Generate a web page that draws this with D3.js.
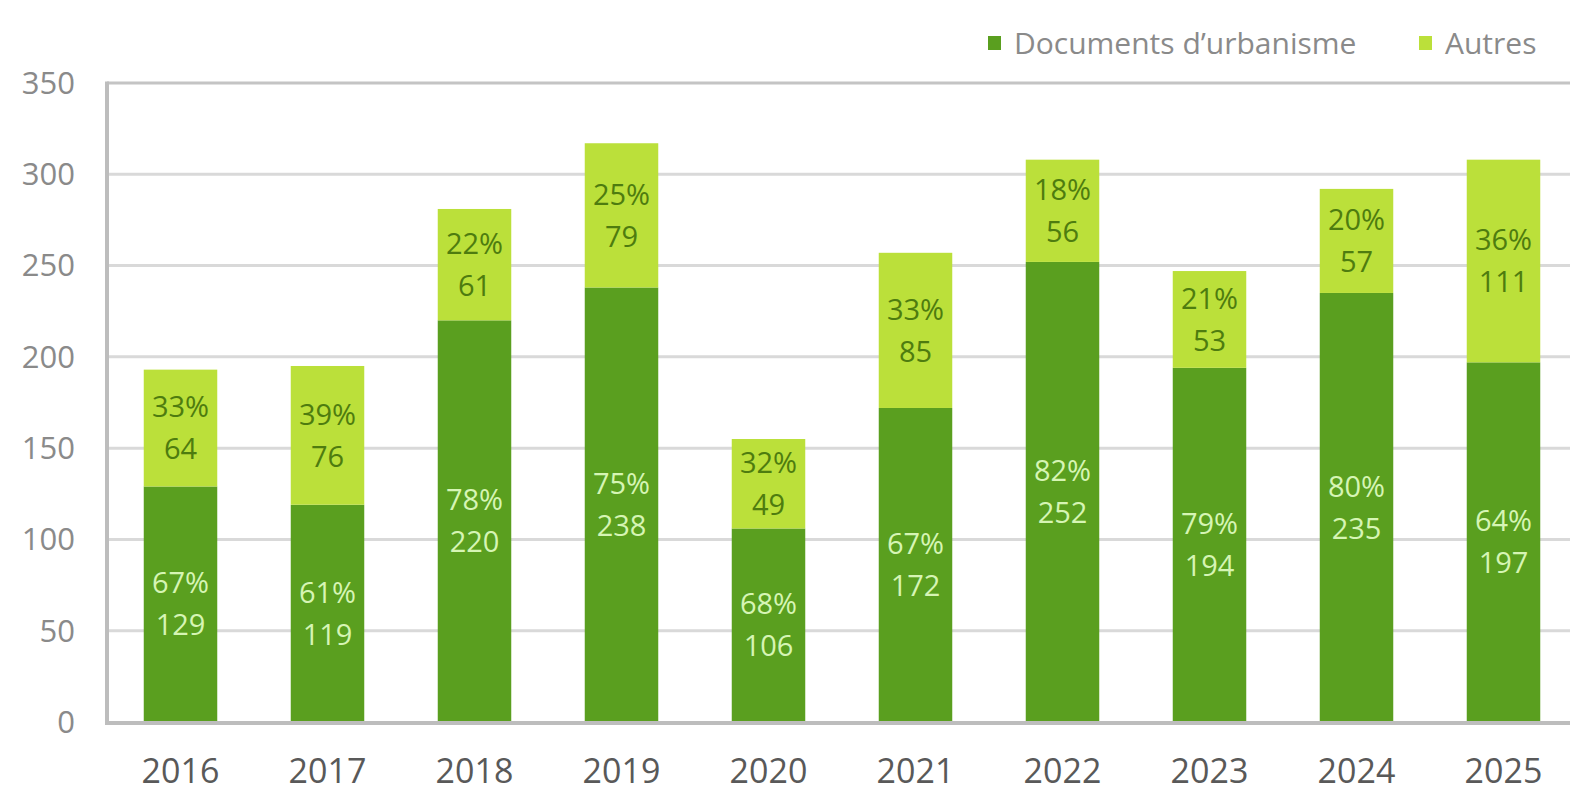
<!DOCTYPE html>
<html>
<head>
<meta charset="utf-8">
<script src="https://cdn.jsdelivr.net/npm/d3@7"></script>
<style>
  body { margin: 0; background: #fff; }
  svg { display: block; font-family: "Open Sans", sans-serif; }
</style>
</head>
<body>
<svg></svg>
<script>
// data
var years = ["2016", "2017", "2018", "2019", "2020", "2021", "2022", "2023", "2024", "2025"];
var docs = [129, 119, 220, 238, 106, 172, 252, 194, 235, 197];
var autres = [64, 76, 61, 79, 49, 85, 56, 53, 57, 111];
var docsPct = ["67%", "61%", "78%", "75%", "68%", "67%", "82%", "79%", "80%", "64%"];
var autresPct = ["33%", "39%", "22%", "25%", "32%", "33%", "18%", "21%", "20%", "36%"];
var yTicks = [0, 50, 100, 150, 200, 250, 300, 350];
var seriesNames = ["Documents d\u2019urbanisme", "Autres"];

var config = { w: 1570, h: 792, left: 107, right: 1577, top: 83, bottom: 722 };
var colors = { docs: "#5a9f1f", autres: "#bbe03a", docsText: "#d6f5b4", autresText: "#4e7c0f" };

var svg = d3.select("svg").attr("width", config.w).attr("height", config.h);

var x = d3.scaleBand()
  .domain(years)
  .range([config.left, config.right])
  .paddingInner(0.5)
  .paddingOuter(0.25);

var y = d3.scaleLinear()
  .domain([0, 350])
  .range([config.bottom, config.top]);

// gridlines
svg.append("g")
  .selectAll("line")
  .data(yTicks.filter(function(d) { return d > 0 && d < 350; }))
  .enter().append("line")
    .attr("x1", config.left).attr("x2", config.w)
    .attr("y1", y).attr("y2", y)
    .attr("stroke", "#d9d9d9")
    .attr("stroke-width", 3);

// frame: top, left lines
svg.append("line")
  .attr("x1", config.left).attr("x2", config.w)
  .attr("y1", y(350)).attr("y2", y(350))
  .attr("stroke", "#c4c4c4").attr("stroke-width", 3);
svg.append("line")
  .attr("x1", config.left).attr("x2", config.left)
  .attr("y1", y(350) - 1.5).attr("y2", y(0) + 2)
  .attr("stroke", "#bdbdbd").attr("stroke-width", 4);

// y tick labels
svg.append("g")
  .selectAll("text")
  .data(yTicks)
  .enter().append("text")
    .attr("x", 75)
    .attr("y", y)
    .attr("dy", "0.35em")
    .attr("text-anchor", "end")
    .attr("fill", "#8a8a8a")
    .style("font-size", "31px")
    .text(function(d) { return d; });

// stacked bars
var rows = years.map(function(yr, i) {
  return { year: yr, docs: docs[i], autres: autres[i], docsPct: docsPct[i], autresPct: autresPct[i] };
});

var bars = svg.append("g");
bars.selectAll("rect.docs")
  .data(rows)
  .enter().append("rect")
    .attr("class", "docs")
    .attr("x", function(d) { return x(d.year); })
    .attr("width", x.bandwidth())
    .attr("y", function(d) { return y(d.docs); })
    .attr("height", function(d) { return y(0) - y(d.docs); })
    .attr("fill", colors.docs);

bars.selectAll("rect.autres")
  .data(rows)
  .enter().append("rect")
    .attr("class", "autres")
    .attr("x", function(d) { return x(d.year); })
    .attr("width", x.bandwidth())
    .attr("y", function(d) { return y(d.docs + d.autres); })
    .attr("height", function(d) { return y(d.docs) - y(d.docs + d.autres); })
    .attr("fill", colors.autres);

// bottom axis line
svg.append("line")
  .attr("x1", config.left - 2).attr("x2", config.w)
  .attr("y1", y(0) + 1).attr("y2", y(0) + 1)
  .attr("stroke", "#bdbdbd").attr("stroke-width", 4);

// segment labels (percent above, value below, centred in segment)
function segLabels(cls, lo, hi, pct, val, fill) {
  var g = svg.append("g").attr("class", cls);
  var gs = g.selectAll("g").data(rows).enter().append("g")
    .attr("transform", function(d) {
      var cy = (y(lo(d)) + y(hi(d))) / 2;
      return "translate(" + (x(d.year) + x.bandwidth() / 2) + "," + cy + ")";
    });
  gs.append("text")
    .attr("y", -21).attr("dy", "0.35em")
    .attr("text-anchor", "middle")
    .attr("fill", fill)
    .style("font-size", "29px")
    .text(pct);
  gs.append("text")
    .attr("y", 21).attr("dy", "0.35em")
    .attr("text-anchor", "middle")
    .attr("fill", fill)
    .style("font-size", "29px")
    .text(val);
}

segLabels("docs-labels",
  function(d) { return 0; }, function(d) { return d.docs; },
  function(d) { return d.docsPct; }, function(d) { return d.docs; }, colors.docsText);
segLabels("autres-labels",
  function(d) { return d.docs; }, function(d) { return d.docs + d.autres; },
  function(d) { return d.autresPct; }, function(d) { return d.autres; }, colors.autresText);

// x labels
svg.append("g")
  .selectAll("text")
  .data(years)
  .enter().append("text")
    .attr("x", function(d) { return x(d) + x.bandwidth() / 2; })
    .attr("y", 783)
    .attr("text-anchor", "middle")
    .attr("fill", "#595959")
    .style("font-size", "34px")
    .text(function(d) { return d; });

// legend
var legend = svg.append("g").attr("transform", "translate(0,43)");
var legX = [988, 1419];
var legColors = [colors.docs, colors.autres];
var items = legend.selectAll("g").data(seriesNames).enter().append("g")
  .attr("transform", function(d, i) { return "translate(" + legX[i] + ",0)"; });
items.append("rect")
  .attr("x", 0).attr("y", -7)
  .attr("width", 13).attr("height", 14)
  .attr("fill", function(d, i) { return legColors[i]; });
items.append("text")
  .attr("x", 26).attr("dy", "0.35em")
  .attr("fill", "#8a8a8a")
  .style("font-size", "30px")
  .text(function(d) { return d; });
</script>
</body>
</html>
